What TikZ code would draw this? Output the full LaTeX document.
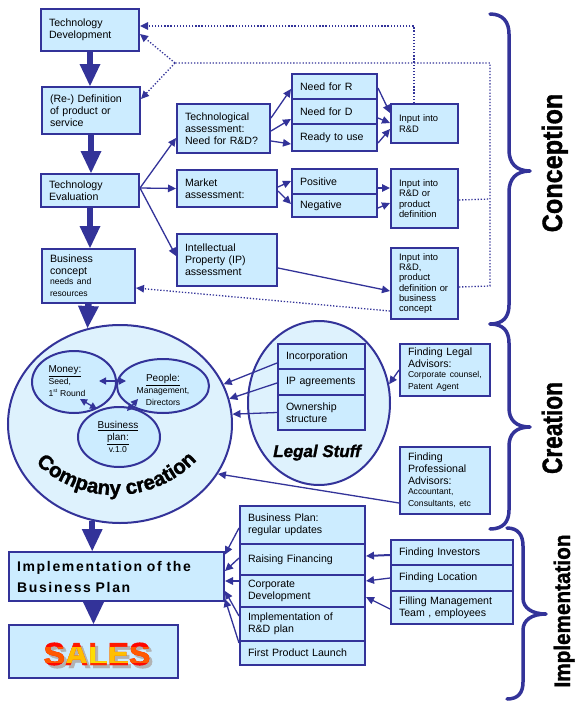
\documentclass[tikz,border=0pt]{standalone}
\usepackage{fontspec}
\setmainfont{Liberation Sans}
\newfontfamily\spfont[LetterSpace=12]{Liberation Sans}
\newfontfamily\hvy{Liberation Sans}[UprightFont=* Bold, ItalicFont=* Bold Italic, FakeBold=1.4]
\usetikzlibrary{arrows.meta,shapes.geometric,decorations.text}
\definecolor{bdr}{RGB}{51,51,153}
\definecolor{bfill}{RGB}{204,236,255}
\definecolor{cfill}{RGB}{222,242,253}
\newcommand\ftxt{\fontsize{10.6}{12}\selectfont}
\newcommand\fsml{\fontsize{8.6}{10}\selectfont}
\newcommand\finp{\fontsize{9.4}{10.3}\selectfont}
\newcommand\salesfont{\hvy\fontsize{32}{32}\selectfont}
\tikzset{
  boxst/.style={draw=bdr, fill=bfill, line width=2pt, inner xsep=8pt, inner ysep=2pt, align=left, font=\ftxt},
  arr/.style={draw=bdr, line width=1.3pt, -{Triangle[length=8pt,width=7.5pt]}},
  darr/.style={draw=bdr, line width=1.3pt, {Triangle[length=7pt,width=7pt]}-{Triangle[length=7pt,width=7pt]}},
  dotl/.style={draw=bdr, line width=1.3pt, dash pattern=on 1.3pt off 1.8pt},
  dotarr/.style={dotl, -{Triangle[length=8pt,width=7.5pt]}},
  bigarr/.style={draw=bdr, line width=6.5pt, -{Triangle[length=22pt,width=21pt,line width=0pt]}},
  brace/.style={draw=bdr, line width=3.5pt, line cap=round, line join=round},
  ell/.style={ellipse, draw=bdr, line width=2pt, inner sep=0pt},
  title/.style={rotate=90, anchor=base, text=black},
}
\newcommand\bx[7][]{%
  \pgfmathsetlengthmacro\bxtw{#5pt-16pt}%
  \node[boxst,anchor=north west,minimum height=#6pt,text width=\bxtw,#1] (#2) at (#3,#4) {#7};}
\begin{document}
\begin{tikzpicture}[x=1pt,y=-1pt]
\useasboundingbox (0,0) rectangle (585,707);
\fill[white] (0,0) rectangle (585,707);

% ---------- ellipses ----------
\node[ell, fill=cfill, minimum width=224pt, minimum height=198pt] (cc) at (120,424) {};
\node[ell, fill=cfill, minimum width=142pt, minimum height=164pt] (legal) at (319,403) {};
\node[ell, fill=bfill, minimum width=84pt, minimum height=62pt] (mo) at (74,382) {};
\node[align=left, inner sep=0pt] (motx) at (67,381) {\fontsize{10}{10}\selectfont\underline{Money:}\\\fsml Seed,\\\fsml 1\textsuperscript{\tiny st} Round};
\node[ell, fill=bfill, minimum width=92pt, minimum height=54pt] (pe) at (163,386) {};
\node[align=center, inner sep=0pt] (petx) at (163,390) {\fontsize{10}{10}\selectfont\underline{People:}\\\fsml Management,\\\fsml Directors};
\node[ell, fill=bfill, minimum width=82pt, minimum height=60pt] (bp) at (119,437) {};
\node[align=center, inner sep=0pt] (bptx) at (118,437) {\fontsize{10}{11}\selectfont\underline{Business}\\\fontsize{10}{11}\selectfont\underline{plan:}\\\fsml v.1.0};
\path[decorate, decoration={text along path, text={|\hvy\fontsize{20.5}{20.5}\selectfont|Company creation}, text align=center}] (115,381) ++(137:114) arc[start angle=137, end angle=41, radius=114];
\node[anchor=base, inner sep=0pt, font=\hvy\itshape\fontsize{17}{17}\selectfont] (lst) at (317,457) {Legal Stuff};

% ---------- boxes ----------
\bx{td}{40}{8}{98}{42}{Technology\\Development}
\bx{rd}{41}{86}{98}{47}{(Re-) Definition\\of product or\\service}
\bx{tev}{40}{173}{98}{33}{Technology\\Evaluation}
\bx{bc}{41}{248}{93}{54}{Business\\concept\\\fsml needs and\\resources}
\bx{ta}{176}{103}{93}{49}{Technological\\assessment:\\Need for R\&D?}
\bx{ma}{176}{169}{100}{37}{Market\\assessment:}
\bx{ipa}{176}{233}{100}{52}{Intellectual\\Property (IP)\\assessment}
\bx{nr}{291}{73}{85}{25}{Need for R}
\bx{nd}{291}{98}{85}{25}{Need for D}
\bx{ru}{291}{123}{85}{27}{Ready to use}
\bx[font=\finp]{in1}{390}{103}{67}{39}{Input into\\R\&D}
\bx{pos}{291}{168}{85}{25}{Positive}
\bx{neg}{291}{193}{85}{23}{Negative}
\bx[font=\finp]{in2}{390}{168}{67}{59}{Input into\\R\&D or\\product\\definition}
\bx[font=\finp]{in3}{390}{247}{67}{71}{Input into\\R\&D,\\product\\definition or\\business\\concept}

\bx{inc}{277}{343}{87}{25}{Incorporation}
\bx{ipag}{277}{368}{87}{26}{IP agreements}
\bx{own}{277}{394}{87}{35}{Ownership\\structure}
\bx{fla}{399}{343}{90}{52}{Finding Legal\\Advisors:\\\fsml Corporate counsel,\\Patent Agent}
\bx{fpa}{399}{446}{90}{67}{Finding\\Professional\\Advisors:\\\fsml Accountant,\\Consultants, etc}

\bx[font=\spfont\fontsize{14}{21}\selectfont\bfseries]{impl}{8}{551}{215}{49}{Implementation of the\\Business Plan}
\bx{sales}{8}{624}{169}{53}{}
\bx{bpu}{239}{505}{125}{38}{Business Plan:\\regular updates}
\bx{rf}{239}{543}{125}{31}{Raising Financing}
\bx{cd}{239}{574}{125}{32}{Corporate\\Development}
\bx{ird}{239}{606}{125}{34}{Implementation of\\R\&D plan}
\bx{fpl}{239}{640}{125}{24}{First Product Launch}
\bx{fi}{390}{539}{122}{25}{Finding Investors}
\bx{fl}{390}{564}{122}{26}{Finding Location}
\bx{fm}{390}{590}{122}{33}{Filling Management\\Team , employees}

% SALES text: grey shadow, red base, yellow-orange middle band
\node[text=black!30, font=\salesfont, inner sep=0pt] (salesh) at (100,657) {SALES};
\node[font=\salesfont, inner sep=0pt] (salestx) at (97,654) {\textcolor{red!95!orange}{S}\textcolor{red!80!orange}{A}\textcolor{red!65!orange}{L}\textcolor{red!80!orange}{E}\textcolor{red!95!orange}{S}};
\begin{scope}
  \clip (30,647) rectangle (165,662);
  \node[font=\salesfont, inner sep=0pt] at (salestx.center) {\textcolor{orange!70!red}{S}\textcolor{orange!50!yellow}{A}\textcolor{yellow!80!orange}{L}\textcolor{orange!50!yellow}{E}\textcolor{orange!70!red}{S}};
\end{scope}

% ---------- big arrows ----------
\coordinate (cctop) at (87.5,328);
\draw[bigarr] (td.south) -- (td.south |- rd.north);
\draw[bigarr] (rd.south) -- (rd.south |- tev.north);
\draw[bigarr] (tev.south) -- (tev.south |- bc.north);
\draw[bigarr] (bc.south) -- (cctop);
\draw[bigarr] (cc.-106) -- (cc.-106 |- impl.north);
\draw[bigarr] (sales.north |- impl.south) -- (sales.north);

% ---------- thin arrows ----------
\draw[arr] ([yshift=2.5pt]tev.east) -- ([yshift=-9.5pt]ta.west);
\draw[arr] ([yshift=2.5pt]tev.east) -- (ma.west);
\draw[arr] ([yshift=2.5pt]tev.east) -- ([yshift=4pt]ipa.west);
\draw[arr] ([yshift=10.5pt]ta.east) -- ([yshift=-2.5pt]nr.west);
\draw[arr] ([yshift=-2.5pt]ta.east) -- ([yshift=-7.5pt]nd.west);
\draw[arr] ([yshift=-12.5pt]ta.east) -- ([yshift=-6.5pt]ru.west);
\draw[arr] ([yshift=-1.5pt]nr.east) -- ([yshift=10.5pt]in1.west);
\draw[arr] ([yshift=-6.5pt]nd.east) -- ([yshift=0.5pt]in1.west);
\draw[arr] ([yshift=-5.5pt]ru.east) -- ([yshift=-5.5pt]in1.west);
\draw[arr] ([yshift=1.5pt]ma.east) -- ([yshift=0.5pt]pos.west);
\draw[arr] ([yshift=-2.5pt]ma.east) -- ([yshift=1.5pt]neg.west);
\draw[arr] ([yshift=-6.5pt]pos.east) -- ([yshift=10.5pt]in2.west);
\draw[arr] ([yshift=-2.5pt]neg.east) -- ([yshift=-4.5pt]in2.west);
\draw[arr] ([yshift=-8pt]ipa.east) -- ([yshift=-7.5pt]in3.west);

% ---------- dotted feedback ----------
\coordinate (j1) at (175,63);
\coordinate (j2) at (490,63);
\coordinate (j3) at (490,199);
\coordinate (j4) at (490,286);
\draw[dotl] ([yshift=-3.5pt]in3.east) -- (j4) -- (j2) -- (j1);
\draw[dotl] ([yshift=-1.5pt]in2.east) -- (j3);
\draw[dotarr] (j1) -- ([yshift=-4pt]td.east);
\draw[dotarr] (j1) -- ([yshift=11.5pt]rd.east);
\draw[dotarr] ([xshift=-10.5pt]in1.north) |- ([yshift=4pt]td.east);
\draw[dotarr] ([yshift=-27.5pt]in3.west) -- ([yshift=-12pt]bc.east);

% ---------- company creation arrows ----------
\draw[darr] ([xshift=-18pt,yshift=1pt]mo.east) -- ([xshift=9pt,yshift=1pt]mo.east);
\draw[darr] ([xshift=6pt,yshift=15pt]mo.south) -- ([xshift=-22pt,yshift=-3pt]bp.north);
\draw[darr] ([xshift=-25pt,yshift=15pt]pe.south) -- ([xshift=8pt,yshift=-5pt]bp.north);
\draw[arr] ([yshift=-6.5pt]inc.west) -- (cc.21);
\draw[arr] ([yshift=-1pt]ipag.west) -- (cc.13);
\draw[arr] (own.west) -- (cc.5);
\draw[arr] (fla.west) -- (legal.15);
\draw[arr] ([yshift=-22.5pt]fpa.west) -- (cc.-27);

% ---------- implementation arrows ----------
\draw[arr] ([yshift=-3pt]bpu.west) -- ([yshift=22pt]impl.east);
\draw[arr] ([yshift=1.5pt]rf.west) -- ([yshift=5.5pt]impl.east);
\draw[arr] ([yshift=10pt]cd.west) -- ([yshift=-4.5pt]impl.east);
\draw[arr] ([yshift=8pt]ird.west) -- ([yshift=-14.5pt]impl.east);
\draw[arr] ([yshift=10pt]fpl.west) -- ([yshift=-22.5pt]impl.east);
\draw[arr, line width=2pt] ([yshift=-2.5pt]fi.west) -- ([yshift=3.5pt]rf.east);
\draw[arr] (fl.west) -- ([yshift=10pt]cd.east);
\draw[arr] ([yshift=-1.5pt]fm.west) -- ([yshift=-6pt]cd.east);

% ---------- braces ----------
\draw[brace] (490,14) .. controls (503,14) and (509,22) .. (509,34) -- (509,150) .. controls (509,163) and (516,171) .. (530,171) .. controls (516,171) and (509,179) .. (509,192) -- (509,305) .. controls (509,317) and (503,324) .. (490,324);
\draw[brace] (490,324) .. controls (503,324) and (509,331) .. (509,343) -- (509,408) .. controls (509,420) and (516,427) .. (530,427) .. controls (516,427) and (509,434) .. (509,446) -- (509,510) .. controls (509,522) and (503,529) .. (490,529);
\draw[brace] (507,528) .. controls (518,528) and (523,535) .. (523,546) -- (523,598) .. controls (523,608) and (532,614) .. (546,614) .. controls (532,614) and (523,620) .. (523,630) -- (523,682) .. controls (523,693) and (518,699) .. (507,699);

\node[title, font=\hvy\fontsize{28}{28}\selectfont] (tcon) at (562,163) {\scalebox{0.9}[1]{Conception}};
\node[title, font=\hvy\fontsize{28}{28}\selectfont] (tcre) at (562,428) {\scalebox{0.81}[1]{Creation}};
\node[title, font=\hvy\fontsize{22.5}{22.5}\selectfont] (timp) at (570,611) {\scalebox{0.92}[1]{Implementation}};
\end{tikzpicture}
\end{document}
